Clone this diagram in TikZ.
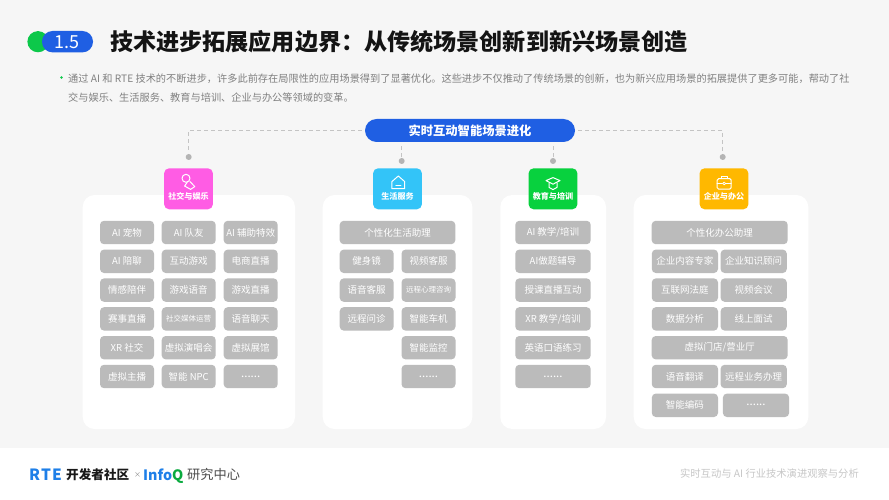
\documentclass[tikz,border=0pt]{standalone}
\usepackage{fontspec}
\setmainfont{Noto Sans CJK SC}
\usetikzlibrary{calc}
\definecolor{pagegray}{HTML}{F6F6F6}
\definecolor{chipgray}{HTML}{BBBBBB}
\definecolor{dashgray}{HTML}{C4C4C4}
\definecolor{dotgray}{HTML}{B4B4B4}
\definecolor{hubblue}{HTML}{1F5FE3}
\definecolor{markgreen}{HTML}{0CC84A}
\definecolor{socpink}{HTML}{FF5CE4}
\definecolor{lifecyan}{HTML}{33C4F8}
\definecolor{edugreen}{HTML}{08D13E}
\definecolor{workamber}{HTML}{FFB800}
\definecolor{infoblue}{HTML}{1E7FE8}
\newcommand{\cjkcomma}{\char"FF0C\relax}
\newcommand{\cjkcolon}{\char"FF1A\relax}
\tikzset{
  chip/.style={fill=chipgray, text=white, rounded corners=4pt, inner sep=0pt, minimum height=23.4pt, font=\fontsize{9.5}{11}\selectfont},
  chipa/.style={chip, minimum width=54pt},
  chipb/.style={chip, minimum width=75.4pt},
  chipc/.style={chip, minimum width=136pt},
  chipd/.style={chip, minimum width=66.2pt},
  chipsmall/.style={font=\fontsize{7.5}{9}\selectfont},
  chipdots/.style={font=\fontsize{11.5}{13}\selectfont},
  badge/.style={text=white, rounded corners=5pt, minimum width=48.8pt, minimum height=41pt, inner sep=0pt},
  badgetext/.style={text=white, inner sep=0pt, font=\fontsize{8.1}{10}\selectfont\bfseries},
  dot/.style={circle, fill=dotgray, minimum size=6pt, inner sep=0pt},
  dashline/.style={dashgray, dash pattern=on 4pt off 3pt, line width=1pt},
  icon/.style={white, line width=1pt, line join=round, line cap=round},
}
\begin{document}
\begin{tikzpicture}[x=1pt, y=-1pt]
    \useasboundingbox (0,0) rectangle (889,500);
    \fill [white] (0,0) rectangle (889,500);
    \fill [pagegray] (0,0) rectangle (889,448);

    % heading
    \fill [markgreen] (38,41.7) circle (10.6);
    \fill [hubblue, rounded corners=10.5pt] (42,31) rectangle (93,52.4);
    \node [text=white, inner sep=0pt, font=\fontsize{18}{20}\selectfont] (num) at (67,42) {1.5};
    \node [anchor=west, inner sep=0pt, text=black!92, font=\fontsize{23.1}{26}\selectfont\bfseries] (title) at (110,42) {技术进步拓展应用边界\cjkcolon 从传统场景创新到新兴场景创造};
    \fill [markgreen] (61.5,77.5) circle (1.3);
    \node [anchor=north west, inner sep=0pt, align=left, text=black!50, font=\fontsize{10.2}{18.2}\selectfont] (intro) at (68,74) {通过 AI 和 RTE 技术的不断进步\cjkcomma 许多此前存在局限性的应用场景得到了显著优化。这些进步不仅推动了传统场景的创新\cjkcomma 也为新兴应用场景的拓展提供了更多可能\cjkcomma 帮动了社\\交与娱乐、生活服务、教育与培训、企业与办公等领域的变革。};

    % panels
    \fill [white, rounded corners=12pt] (82.7,195) rectangle (295,429);
    \fill [white, rounded corners=12pt] (322.7,195) rectangle (472.3,429);
    \fill [white, rounded corners=12pt] (500.3,195) rectangle (606,429);
    \fill [white, rounded corners=12pt] (633.7,195) rectangle (808.3,429);

    % hub and connectors
    \node [fill=hubblue, text=white, rounded corners=11.5pt, minimum width=210pt, minimum height=23pt, inner sep=0pt, font=\fontsize{12.3}{14}\selectfont\bfseries] (hub) at (470,130.5) {实时互动智能场景进化};
    \node [dot] (dotsoc) at (188.7,157) {};
    \node [dot] (dotlife) at (401.7,161) {};
    \node [dot] (dotedu) at (553,161) {};
    \node [dot] (dotwork) at (722.7,157) {};
    \draw [dashline, shorten <=3pt, shorten >=1pt] (hub.west) -| (dotsoc.north);
    \draw [dashline, shorten <=3pt, shorten >=1pt] (hub.east) -| (dotwork.north);
    \draw [dashline, shorten <=4pt, shorten >=1pt] (dotlife.north |- hub.south) -- (dotlife.north);
    \draw [dashline, shorten <=4pt, shorten >=1pt] (dotedu.north |- hub.south) -- (dotedu.north);

    % badges
    \node [badge, fill=socpink] (soc) at (188.5,188.8) {};
    \node [badge, fill=lifecyan] (life) at (397.5,188.8) {};
    \node [badge, fill=edugreen] (edu) at (553,188.8) {};
    \node [badge, fill=workamber] (work) at (724,188.8) {};
    \node [badgetext] (soctext) at (188.5,196.8) {社交与娱乐};
    \node [badgetext] (lifetext) at (397.5,196.8) {生活服务};
    \node [badgetext] (edutext) at (553,196.8) {教育与培训};
    \node [badgetext] (worktext) at (724,196.8) {企业与办公};

    % badge icons
    \draw [icon] (186,178.3) circle (4);
    \draw [icon] (187.2,182.4) -- (184.6,186) -- (190.6,189.4) -- (194.8,186.6) -- (190,181.6);
    \draw [icon] (391.9,181.6) -- (398.3,176) -- (404.7,181.6) -- (404.7,188.7) -- (391.9,188.7) -- cycle;
    \draw [icon] (395.8,185.6) -- (400.8,185.6);
    \draw [icon] (546,180.6) -- (553,177.6) -- (560,180.6) -- (553,184.2) -- cycle;
    \draw [icon] (549,183) -- (549,187.4) -- (553,189.6) -- (557,187.4) -- (557,183);
    \draw [icon, rounded corners=1.5pt] (717.2,178.6) rectangle (731.2,189.2);
    \draw [icon] (721.4,178.6) -- (721.4,176) -- (727,176) -- (727,178.6);
    \draw [icon] (717.2,183.4) -- (722.4,183.4) (726,183.4) -- (731.2,183.4);
    \draw [icon, line width=0.7pt] (724.2,183.4) circle (1.4);

    % social and entertainment
    \node [chipa] (soca) at (127,232.5) {AI 宠物};
    \node [chipa] (socb) at (188.7,232.5) {AI 队友};
    \node [chipa] (socc) at (250.7,232.5) {AI 辅助特效};
    \node [chipa] (socd) at (127,261.3) {AI 陪聊};
    \node [chipa] (soce) at (188.7,261.3) {互动游戏};
    \node [chipa] (socf) at (250.7,261.3) {电商直播};
    \node [chipa] (socg) at (127,290.1) {情感陪伴};
    \node [chipa] (soch) at (188.7,290.1) {游戏语音};
    \node [chipa] (soci) at (250.7,290.1) {游戏直播};
    \node [chipa] (socj) at (127,318.9) {赛事直播};
    \node [chipa, chipsmall] (sock) at (188.7,318.9) {社交媒体运营};
    \node [chipa] (socl) at (250.7,318.9) {语音聊天};
    \node [chipa] (socm) at (127,347.7) {XR 社交};
    \node [chipa] (socn) at (188.7,347.7) {虚拟演唱会};
    \node [chipa] (soco) at (250.7,347.7) {虚拟展馆};
    \node [chipa] (socp) at (127,376.5) {虚拟主播};
    \node [chipa] (socq) at (188.7,376.5) {智能 NPC};
    \node [chipa, chipdots] (socr) at (250.7,376.5) {......};

    % daily life services
    \node [chip, minimum width=115.6pt] (lifea) at (397.5,232.5) {个性化生活助理};
    \node [chipa] (lifeb) at (366.7,261.3) {健身镜};
    \node [chipa] (lifec) at (428.5,261.3) {视频客服};
    \node [chipa] (lifed) at (366.7,290.1) {语音客服};
    \node [chipa, chipsmall] (lifee) at (428.5,290.1) {远程心理咨询};
    \node [chipa] (lifef) at (366.7,318.9) {远程问诊};
    \node [chipa] (lifeg) at (428.5,318.9) {智能车机};
    \node [chipa] (lifeh) at (428.5,347.7) {智能监控};
    \node [chipa, chipdots] (lifei) at (428.5,376.5) {......};

    % education and training
    \node [chipb] (edua) at (553,232.5) {AI 教学/培训};
    \node [chipb] (edub) at (553,261.3) {AI做题辅导};
    \node [chipb] (educ) at (553,290.1) {授课直播互动};
    \node [chipb] (edud) at (553,318.9) {XR 教学/培训};
    \node [chipb] (edue) at (553,347.7) {英语口语练习};
    \node [chipb, chipdots] (eduf) at (553,376.5) {......};

    % enterprise and office
    \node [chipc] (worka) at (719.7,232.5) {个性化办公助理};
    \node [chipd] (workb) at (684.9,261.3) {企业内容专家};
    \node [chipd] (workc) at (753.7,261.3) {企业知识顾问};
    \node [chipd] (workd) at (684.9,290.1) {互联网法庭};
    \node [chipd] (worke) at (753.7,290.1) {视频会议};
    \node [chipd] (workf) at (684.9,318.9) {数据分析};
    \node [chipd] (workg) at (753.7,318.9) {线上面试};
    \node [chipc] (workh) at (719.7,347.7) {虚拟门店/营业厅};
    \node [chipd] (worki) at (684.9,376.5) {语音翻译};
    \node [chipd] (workj) at (753.7,376.5) {远程业务办理};
    \node [chipd] (workk) at (684.9,405.3) {智能编码};
    \node [chipd, chipdots] (workl) at (756,405.3) {......};

    % footer
    \node [anchor=west, inner sep=0pt, text=infoblue, font=\fontsize{15.5}{17}\selectfont\bfseries\addfontfeature{LetterSpace=8}] (rte) at (29,474.5) {RTE};
    \node [anchor=west, inner sep=0pt, text=black!90, font=\fontsize{12.6}{15}\selectfont\bfseries] (dev) at (66,474.5) {开发者社区};
    \node [anchor=west, inner sep=0pt, text=black!45, font=\fontsize{7}{9}\selectfont] (times) at (134,475) {×};
    \node [anchor=base west, inner sep=0pt, text=infoblue, font=\fontsize{14.3}{16}\selectfont\bfseries] (info) at (143,480) {Info\textcolor{markgreen!85!black}{Q}};
    \node [anchor=west, inner sep=0pt, text=black!70, font=\fontsize{13.2}{15}\selectfont] (lab) at (187,474.5) {研究中心};
    \node [anchor=east, inner sep=0pt, text=black!22, font=\fontsize{10.3}{12}\selectfont] (foot) at (859,474) {实时互动与 AI 行业技术演进观察与分析};
\end{tikzpicture}
\end{document}
